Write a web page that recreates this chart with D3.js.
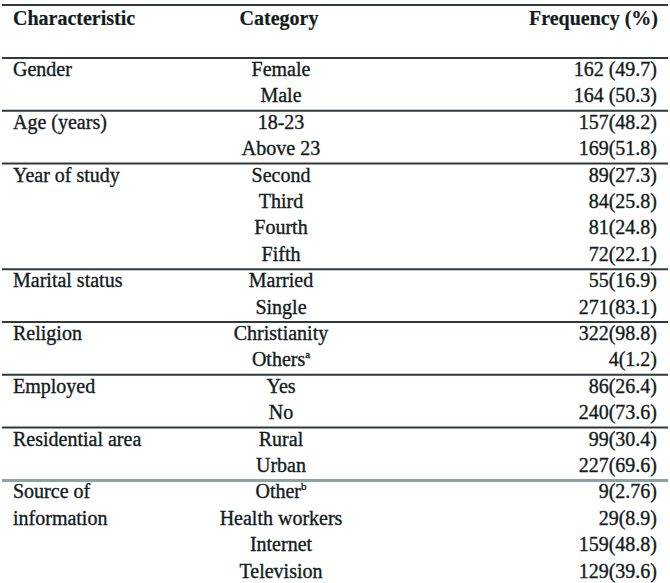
<head>
  <meta charset="utf-8">
  <title>Characteristics table</title>
  <style>
    body { margin: 0; background: white; }
    svg text { font-family: "Liberation Serif", "Times New Roman", serif; font-size: 20px;
      fill: #121c1c; stroke: #121c1c; stroke-width: 0.35px; }
    svg .head { font-weight: bold; stroke-width: 0.2px; }
  </style>
</head>
<body>
  <div id="table"></div>
  <script src="https://cdn.jsdelivr.net/npm/d3@7"></script>
  <script>
    // table content
    const headers = ["Characteristic", "Category", "Frequency (%)"];
    const characteristics = [["Gender"], ["Age (years)"], ["Year of study"], ["Marital status"],
      ["Religion"], ["Employed"], ["Residential area"], ["Source of", "information"]];
    const categories = [
      ["Female", "Male"],
      ["18-23", "Above 23"],
      ["Second", "Third", "Fourth", "Fifth"],
      ["Married", "Single"],
      ["Christianity", "Others|a"],
      ["Yes", "No"],
      ["Rural", "Urban"],
      ["Other|b", "Health workers", "Internet", "Television"]
    ];
    const counts = [[162, 164], [157, 169], [89, 84, 81, 72], [55, 271], [322, 4], [86, 240], [99, 227], [9, 29, 159, 129]];
    const percents = [["49.7", "50.3"], ["48.2", "51.8"], ["27.3", "25.8", "24.8", "22.1"], ["16.9", "83.1"],
      ["98.8", "1.2"], ["26.4", "73.6"], ["30.4", "69.6"], ["2.76", "8.9", "48.8", "39.6"]];
    const spaced = [true, false, false, false, false, false, false, false];

    const width = 670, height = 583;
    const rowH = 26.4, headTop = 5, bodyTop = 58;

    const svg = d3.select("#table").append("svg")
      .attr("width", width).attr("height", height);

    // column positions
    const colX = { left: 13, mid: 281, right: 657 };

    // cumulative row index where each group starts
    let starts = [], n = 0;
    categories.forEach(c => { starts.push(n); n += c.length; });
    const y = d3.scaleLinear().domain([0, n]).range([bodyTop, bodyTop + n * rowH]);

    const rule = (yy, color, w) => svg.append("line")
      .attr("x1", 2).attr("x2", 668).attr("y1", yy).attr("y2", yy)
      .attr("stroke", color).attr("stroke-width", w);

    // header
    rule(headTop, "#2f3b3b", 2);
    svg.append("text").attr("class", "head").attr("x", colX.left).attr("y", 25).text(headers[0]);
    svg.append("text").attr("class", "head").attr("x", colX.mid - 2).attr("y", 25)
      .attr("text-anchor", "middle").text(headers[1]);
    svg.append("text").attr("class", "head").attr("x", colX.right + 1).attr("y", 25)
      .attr("text-anchor", "end").text(headers[2]);
    rule(bodyTop, "#2f3b3b", 2);

    const groups = svg.selectAll(".grp")
      .data(categories.map((c, i) => ({ i, cats: c, start: starts[i] })))
      .join("g").attr("class", "grp");

    groups.each(function(d) {
      const g = d3.select(this);
      const top = y(d.start);
      if (d.i > 0) {
        const last = d.i === categories.length - 1;
        rule(top, last ? "#8aa3a3" : "#2f3b3b", last ? 3 : 2);
      }
      characteristics[d.i].forEach((t, k) => {
        g.append("text").attr("x", colX.left).attr("y", top + 18 + k * rowH).text(t);
      });
      d.cats.forEach((c, k) => {
        const yy = y(d.start + k) + 18;
        const [label, sup] = c.split("|");
        const t = g.append("text").attr("x", colX.mid).attr("y", yy).attr("text-anchor", "middle");
        t.append("tspan").text(label);
        if (sup) t.append("tspan").attr("font-size", 11).attr("dy", -8).text(sup);
        g.append("text").attr("x", colX.right).attr("y", yy).attr("text-anchor", "end")
          .text(counts[d.i][k] + (spaced[d.i] ? " " : "") + "(" + percents[d.i][k] + ")");
      });
    });
  </script>
</body>
